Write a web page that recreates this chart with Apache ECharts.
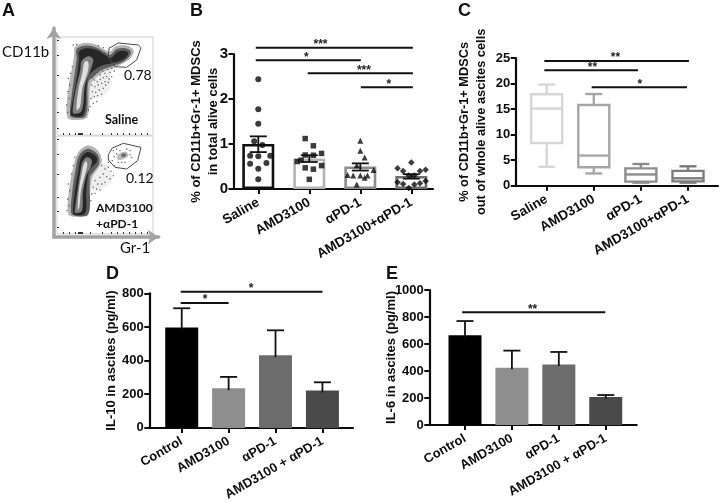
<!DOCTYPE html>
<html><head><meta charset="utf-8">
<style>html,body{margin:0;padding:0;background:#fff;overflow:hidden}#c{width:720px;height:503px}#c canvas{filter:blur(0.4px)}</style>
<script src="https://cdn.jsdelivr.net/npm/echarts@6/dist/echarts.min.js"></script>
</head><body><div id="c"></div>
<script>
// ---------- data ----------
const panelLetters = ['A','B','C','D','E'];
const categoriesBC = ['Saline','AMD3100','αPD-1','AMD3100+αPD-1'];
const categoriesDE = ['Control','AMD3100','αPD-1','AMD3100 + αPD-1'];

// Panel A: density contours of the two flow plots, outermost first (x 6..294, y 6..300 plot units)
const contoursSaline = [
 [[60,35],[85,25],[120,28],[150,45],[165,50],[180,35],[215,32],[235,45],[232,62],[215,78],[185,95],[165,120],[170,150],[140,185],[110,195],[95,245],[60,255],[38,248],[36,200],[45,130],[55,80],[58,50]],
 [[60,35],[85,25],[120,28],[150,45],[165,50],[180,35],[215,32],[235,45],[232,62],[215,78],[185,95],[150,108],[122,128],[106,150],[97,245],[60,255],[38,248],[36,200],[45,130],[55,80],[58,50]],
 [[65,42],[90,32],[125,38],[150,52],[165,60],[185,42],[212,40],[228,50],[222,65],[205,80],[175,92],[140,105],[115,125],[100,140],[92,242],[55,248],[45,240],[50,180],[60,110],[65,70]],
 [[72,50],[95,40],[125,45],[150,60],[168,68],[188,50],[210,48],[220,55],[212,68],[195,78],[170,85],[140,92],[118,105],[100,125],[95,150],[85,240],[50,242],[47,232],[58,170],[68,110],[72,70]],
 [[80,78],[100,64],[114,72],[112,90],[105,110],[90,150],[80,228],[56,236],[53,225],[63,160],[76,105]],
 [[88,82],[97,78],[101,90],[97,115],[82,160],[75,215],[65,225],[70,165],[82,115]]
];
const contoursCombo = [
 [[70,55],[95,35],[120,42],[135,60],[140,85],[160,100],[170,140],[135,165],[105,175],[100,240],[60,248],[40,240],[42,170],[55,100]],
 [[70,55],[95,35],[120,42],[135,60],[140,85],[128,105],[112,130],[105,175],[100,240],[60,248],[40,240],[42,170],[55,100]],
 [[72,65],[95,45],[115,50],[130,65],[132,90],[118,110],[105,130],[100,240],[58,245],[48,235],[52,170],[62,105]],
 [[78,72],[95,55],[110,58],[125,70],[125,85],[110,100],[100,120],[94,170],[90,238],[58,242],[54,232],[60,170],[70,110]],
 [[82,85],[95,70],[110,78],[107,100],[94,125],[84,175],[80,232],[60,236],[60,225],[68,165],[76,115]],
 [[86,92],[93,82],[97,92],[92,115],[78,170],[73,220],[68,228],[72,165],[80,120]]
];
const gateBlobCombo = [
 [[185,68],[200,55],[215,55],[220,65],[205,75],[190,78]],
 [[198,63],[208,58],[214,64],[204,70]]
];
const eventsSaline = [[112,128],[120,118],[128,112],[135,120],[143,108],[150,115],[158,104],[165,112],[118,135],[127,140],[136,133],[145,128],[155,125],[110,150],[120,155],[130,150],[140,145],[150,140],[162,132],[112,170],[122,172],[133,165],[145,160],[108,190],[118,185],[128,182],[105,215],[115,205],[100,225],[40,130],[44,150],[38,170],[42,190],[35,210],[38,232],[46,115],[52,95],[170,100],[178,108],[125,200],[140,178],[152,150],[160,142],[170,125],[55,30],[65,28],[130,32],[145,38]];
const eventsCombo = [[140,95],[150,105],[160,100],[168,112],[145,120],[155,128],[135,130],[120,140],[128,150],[140,150],[150,145],[115,160],[125,165],[110,180],[108,200],[120,178],[135,168],[165,135],[175,125],[178,95],[172,80],[160,85],[40,150],[44,170],[38,195],[42,215],[36,230],[50,120],[55,95],[60,70],[175,50],[185,45],[190,85],[225,50],[230,70],[185,60],[195,50],[215,45],[225,62],[210,85],[200,85],[178,68]];
const gateSaline = [[162,40],[190,24],[250,30],[258,38],[245,75],[215,97],[180,95],[160,65],[162,40]];
const gateCombo = [[160,62],[172,42],[205,28],[258,40],[248,80],[215,105],[180,100],[160,78],[160,62]];
const flowTicksX = [24,42,60,69,73,76,80,83,105,141,168,186,204,222,240,258,276];
const flowTicksY = [15,60,120,190,232,280];

// Panel B
const meanB = [1.0,0.68,0.50,0.29];
const errB = [[0.82,1.17],[0.60,0.75],[0.41,0.57],[0.23,0.33]];
const pointsSaline = [[0,2.44],[0,1.77],[0,1.45],[-0.08,1.06],[0.08,0.98],[-0.16,0.74],[0,0.73],[0.235,0.74],[-0.16,0.56],[0.16,0.58],[0,0.45],[0,0.215]];
const pointsAMD = [[-0.08,1.12],[0.08,0.96],[-0.08,0.755],[0.08,0.75],[0.24,0.79],[-0.16,0.64],[-0.235,0.61],[0,0.215],[-0.08,0.47],[0.08,0.44],[0.24,0.52]];
const pointsPD1 = [[0,1.07],[0,0.85],[0.085,0.70],[-0.07,0.53],[0.26,0.42],[-0.25,0.31],[-0.14,0.30],[0,0.30],[0.14,0.30],[0.085,0.25],[-0.07,0.10]];
const pointsCombo = [[0,0.59],[-0.27,0.46],[-0.16,0.40],[0.28,0.43],[0.17,0.40],[-0.05,0.30],[0.06,0.30],[-0.27,0.15],[-0.16,0.11],[0.28,0.18],[0.17,0.13],[0.06,0.10],[-0.05,0.02]];
const bracketsB = [[-0.05,3.03,3.14,'***',1.22],[-0.05,2.01,2.86,'*',0.94],[0.97,3.03,2.57,'***',2.07],[2.01,3.03,2.26,'*',2.56]];

// Panel C: low, q1, median, q3, high
const boxC = [[3.7,8.35,15.1,17.9,19.8],[2.4,3.6,5.9,15.8,17.95],[0.6,0.8,2.2,3.4,4.25],[0.6,0.85,1.45,2.9,3.8]];
const bracketsC = [[-0.05,3.02,24.4,'**',1.46],[-0.05,1.94,22.6,'**',0.97],[0.955,2.98,19.26,'*',1.98]];

// Panel D
const meanD = [596,236,432,222];
const highD = [711,303,580,271];
const bracketsD = [[-0.02,3.0,809,'*',1.48],[-0.02,1.0,743,'*',0.5]];

// Panel E
const meanE = [664,425,449,207];
const highE = [770,551,541,222];
const bracketsE = [[-0.06,2.99,835,'**',1.44]];

// ---------- styling ----------
const INK = '#0c0c0c', FONT = '"Liberation Sans",Arial,sans-serif';
const outlineB = ['#111111','#b4b4b4','#8c8c8c','#6e6e6e'];
const strokeC = ['#d6d6d6','#a6a6a6','#8c8c8c','#7c7c7c'];
const fillDE = ['#000000','#8e8e8e','#6c6c6c','#4a4a4a'];
const contourColors = ['#eeeeee','#b4b4b4','#5e5e5e','#262626','#808080','#dedede'];
const gateBlobColors = ['#bcbcbc','#6a6a6a'];

const grids = [
  {left:53.7,top:28,width:105,height:209},
  {left:57,top:37,width:96,height:98,show:true,borderColor:'#cfcfcf',borderWidth:1,backgroundColor:'#fff'},
  {left:57,top:136,width:96,height:98,show:true,borderColor:'#cfcfcf',borderWidth:1,backgroundColor:'#fff'},
  {left:233.5,top:54,width:199.5,height:135},
  {left:515.7,top:58,width:202.3,height:127.7},
  {left:149.3,top:293.3,width:203.7,height:134.7},
  {left:429.3,top:290,width:207.4,height:135}
];

function catX(gridIndex,min,max,cats,fontSize){
  return {gridIndex,type:'value',min,max,splitLine:{show:false},
    axisLine:{onZero:false,lineStyle:{color:INK,width:2.2}},
    axisTick:{customValues:[0,1,2,3],length:5,lineStyle:{color:INK,width:2}},
    axisLabel:{customValues:[0,1,2,3],formatter:v=>cats[v],rotate:30,margin:12.5,color:INK,
      fontFamily:FONT,fontWeight:'bold',fontSize,hideOverlap:false}};
}
function valY(gridIndex,max,interval,name,nameGap,fontSize,nameSize,lineHeight){
  return {gridIndex,type:'value',min:0,max,interval,splitLine:{show:false},
    name,nameLocation:'middle',nameGap,nameRotate:90,nameMoveOverlap:false,
    nameTextStyle:{color:INK,fontFamily:FONT,fontWeight:'bold',fontSize:nameSize,lineHeight},
    axisLine:{show:true,onZero:false,lineStyle:{color:INK,width:2.2}},
    axisTick:{show:true,length:5,lineStyle:{color:INK,width:2}},
    axisLabel:{margin:5.5,color:INK,fontFamily:FONT,fontWeight:'bold',fontSize,formatter:v=>String(v)}};
}
function arrowAxis(gridIndex){
  return {gridIndex,type:'value',min:0,max:1,splitLine:{show:false},axisTick:{show:false},axisLabel:{show:false},
    axisLine:{show:true,onZero:false,symbol:['none','arrow'],symbolSize:[11,11],lineStyle:{color:'#a3a3a3',width:3.5}}};
}
function flowX(gridIndex){
  return {gridIndex,type:'value',min:6,max:294,splitLine:{show:false},axisLabel:{show:false},
    axisLine:{show:false},axisTick:{show:true,inside:true,length:2,customValues:flowTicksX,lineStyle:{color:'#333',width:1}}};
}
function flowY(gridIndex){
  return {gridIndex,type:'value',min:6,max:300,inverse:true,splitLine:{show:false},axisLabel:{show:false},
    axisLine:{show:false},axisTick:{show:true,inside:true,length:2,customValues:flowTicksY,lineStyle:{color:'#333',width:1}}};
}

const xAxes = [arrowAxis(0),flowX(1),flowX(2),
  catX(3,-0.486,3.425,categoriesBC,13.5),
  catX(4,-0.658,3.637,categoriesBC,13.5),
  catX(5,-0.691,3.652,categoriesDE,13),
  catX(6,-0.761,3.66,categoriesDE,13)];
const yAxes = [arrowAxis(0),flowY(1),flowY(2),
  valY(3,3,1,'% of CD11b+Gr-1+ MDSCs\nin total alive cells',12,15,13,17),
  valY(4,25,5,'% of CD11b+Gr-1+ MDSCs\nout of whole alive ascites cells',26,13,12.8,17),
  valY(5,800,200,'IL-10 in ascites (pg/ml)',30,13,13,16),
  valY(6,1000,200,'IL-6 in ascites (pg/ml)',30,13,13,16)];

function contourSeries(g,levels,colors){
  return {type:'custom',xAxisIndex:g,yAxisIndex:g,silent:true,z:2,data:levels.map((l,i)=>[i]),
    renderItem(p,api){
      return {type:'polygon',shape:{points:levels[p.dataIndex].map(pt=>api.coord(pt)),smooth:0.35},
        style:{fill:colors[p.dataIndex]}};
    }};
}
function eventSeries(g,pts){
  return {type:'scatter',xAxisIndex:g,yAxisIndex:g,silent:true,symbol:'rect',symbolSize:1.3,z:3,
    itemStyle:{color:'#4a4a4a'},data:pts};
}
function gateSeries(g,pts){
  return {type:'line',xAxisIndex:g,yAxisIndex:g,data:pts,showSymbol:false,silent:true,
    lineStyle:{color:'#4a4a4a',width:1},z:4};
}
function bracketSeries(g,rows){
  return {type:'custom',xAxisIndex:g,yAxisIndex:g,silent:true,z:5,
    data:rows.map(r=>[r[0],r[1],r[2],r[4]]),
    renderItem(p,api){
      const a=api.coord([api.value(0),api.value(2)]),b=api.coord([api.value(1),api.value(2)]);
      const s=api.coord([api.value(3),api.value(2)]);
      return {type:'group',children:[
        {type:'line',shape:{x1:a[0],y1:a[1],x2:b[0],y2:b[1]},style:{stroke:'#111',lineWidth:2}},
        {type:'text',style:{x:s[0],y:s[1]-3,text:rows[p.dataIndex][3],fill:'#222',
          font:'bold 12px '+FONT,align:'center',verticalAlign:'middle'}}]};
    }};
}
function barSeries(g,values,width,itemStyleFor){
  return {type:'bar',xAxisIndex:g,yAxisIndex:g,barWidth:width,silent:true,
    data:values.map((v,i)=>({value:[i,v],itemStyle:itemStyleFor(i)}))};
}
function errorSeries(g,rows,cap,lw){
  return {type:'custom',xAxisIndex:g,yAxisIndex:g,silent:true,z:4,
    data:rows.map((r,i)=>[i,r[0],r[1],r[2]?1:0]),
    renderItem(p,api){
      const lo=api.coord([api.value(0),api.value(1)]),hi=api.coord([api.value(0),api.value(2)]);
      const st={stroke:'#111',lineWidth:lw};
      const kids=[{type:'line',shape:{x1:lo[0],y1:lo[1],x2:hi[0],y2:hi[1]},style:st},
        {type:'line',shape:{x1:hi[0]-cap/2,y1:hi[1],x2:hi[0]+cap/2,y2:hi[1]},style:st}];
      if(api.value(3))kids.push({type:'line',shape:{x1:lo[0]-cap/2,y1:lo[1],x2:lo[0]+cap/2,y2:lo[1]},style:st});
      return {type:'group',children:kids};
    }};
}
function scatterSeries(i,pts,symbol,size){
  return {type:'scatter',xAxisIndex:3,yAxisIndex:3,symbol,symbolSize:size,silent:true,z:3,
    itemStyle:{color:'#0a0a0a'},data:pts.map(p=>[i+p[0],p[1]])};
}
const boxSeries = {type:'custom',xAxisIndex:4,yAxisIndex:4,silent:true,
  data:boxC.map((r,i)=>[i,...r]),
  renderItem(p,api){
    const x=api.value(0),c=strokeC[p.dataIndex],w=31,cap=17;
    const at=k=>api.coord([x,api.value(k)]);
    const low=at(1),q1=at(2),med=at(3),q3=at(4),high=at(5),st={stroke:c,lineWidth:2.4,fill:null};
    const h=(pt,half)=>({type:'line',shape:{x1:pt[0]-half,y1:pt[1],x2:pt[0]+half,y2:pt[1]},style:st});
    return {type:'group',children:[
      {type:'rect',shape:{x:q3[0]-w/2,y:q3[1],width:w,height:q1[1]-q3[1]},style:st},
      h(med,w/2),h(low,cap/2),h(high,cap/2),
      {type:'line',shape:{x1:high[0],y1:high[1],x2:q3[0],y2:q3[1]},style:st},
      {type:'line',shape:{x1:q1[0],y1:q1[1],x2:low[0],y2:low[1]},style:st}]};
  }};

const series = [
  contourSeries(1,contoursSaline,contourColors),eventSeries(1,eventsSaline),gateSeries(1,gateSaline),
  contourSeries(2,contoursCombo,contourColors),contourSeries(2,gateBlobCombo,gateBlobColors),eventSeries(2,eventsCombo),gateSeries(2,gateCombo),
  barSeries(3,meanB,32,i=>({color:'rgba(255,255,255,0)',borderColor:outlineB[i],borderWidth:2.6})),
  scatterSeries(0,pointsSaline,'circle',6),
  scatterSeries(1,pointsAMD,'rect',5.5),
  scatterSeries(2,pointsPD1,'triangle',6),
  scatterSeries(3,pointsCombo,'diamond',6.5),
  errorSeries(3,errB.map(e=>[e[0],e[1],true]),17,1.8),
  bracketSeries(3,bracketsB),
  boxSeries,
  bracketSeries(4,bracketsC),
  barSeries(5,meanD,33,i=>({color:fillDE[i]})),
  errorSeries(5,meanD.map((m,i)=>[m-12,highD[i],false]),17,1.8),
  bracketSeries(5,bracketsD),
  barSeries(6,meanE,33,i=>({color:fillDE[i]})),
  errorSeries(6,meanE.map((m,i)=>[m-12,highE[i],false]),17,1.8),
  bracketSeries(6,bracketsE)
];

const letterPos = [[2,2],[190,2],[458,2],[106,265],[386,265]];
const title = panelLetters.map((t,i)=>({text:t,left:letterPos[i][0],top:letterPos[i][1],padding:0,
  textStyle:{color:'#111',fontFamily:FONT,fontWeight:'bold',fontSize:18}}));

const sans = '"Lato","Open Sans",sans-serif';
const gText=(text,x,y,font,align)=>({type:'text',x,y,z:20,silent:true,
  style:{text,font,fill:'#111',textAlign:align||'left',textVerticalAlign:'middle'}});
const graphic = [
  gText('CD11b',2,52,'15px '+sans),
  gText('0.78',124,75,'14px '+sans),
  gText('Saline',105,120,'bold 12.5px '+sans),
  gText('0.12',126,178,'14px '+sans),
  gText('AMD3100',96,208,'bold 12px '+sans),
  gText('+αPD-1',96,224,'bold 12px '+sans),
  gText('Gr-1',120,248,'15px '+sans)
];

const chart = echarts.init(document.getElementById('c'),null,{renderer:'canvas'});
chart.setOption({animation:false,backgroundColor:'#fff',title,graphic,
  grid:grids,xAxis:xAxes,yAxis:yAxes,series,tooltip:{show:false}});
</script></body></html>
